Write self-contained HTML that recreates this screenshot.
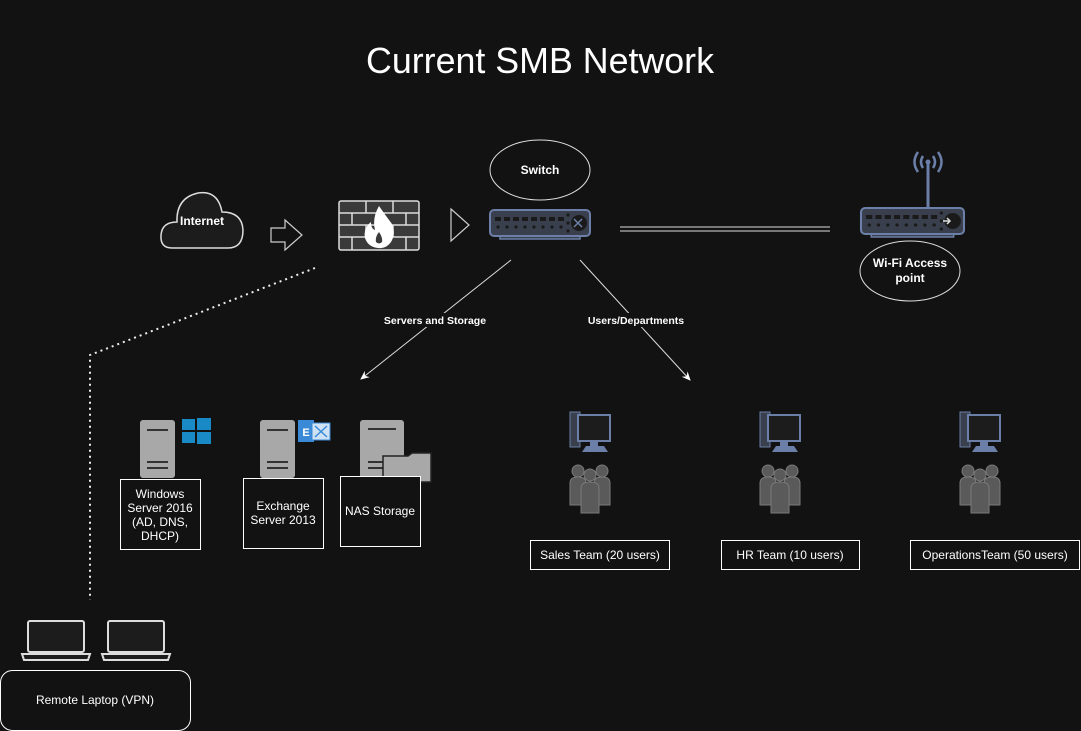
<!DOCTYPE html>
<html><head><meta charset="utf-8"><style>
html,body{margin:0;padding:0;background:#121212;}
svg{display:block;}
text{font-family:"Liberation Sans",Arial,sans-serif;fill:#fff;}
</style></head><body>
<svg width="1081" height="731" viewBox="0 0 1081 731" xmlns="http://www.w3.org/2000/svg">
<defs>
<g id="switchdev">
  <rect x="10" y="26" width="80" height="5" fill="#3a3f4d" stroke="#6b7fa8" stroke-width="1.5"/>
  <rect x="0" y="2" width="100" height="26" rx="4" fill="#3a3f4d" stroke="#6b7fa8" stroke-width="2"/>
  <g fill="#1a1a1a">
    <rect x="5" y="9" width="6" height="4"/><rect x="14" y="9" width="6" height="4"/><rect x="23" y="9" width="6" height="4"/><rect x="32" y="9" width="6" height="4"/><rect x="41" y="9" width="6" height="4"/><rect x="50" y="9" width="6" height="4"/><rect x="59" y="9" width="6" height="4"/><rect x="68" y="9" width="6" height="4"/>
    <circle cx="8" cy="19" r="1.6"/><circle cx="17" cy="19" r="1.6"/><circle cx="26" cy="19" r="1.6"/><circle cx="35" cy="19" r="1.6"/><circle cx="44" cy="19" r="1.6"/><circle cx="53" cy="19" r="1.6"/><circle cx="62" cy="19" r="1.6"/><circle cx="71" cy="19" r="1.6"/>
    <circle cx="78" cy="7" r="1.6"/><circle cx="78" cy="15" r="1.6"/><circle cx="78" cy="23" r="1.6"/>
    <circle cx="89" cy="15" r="8"/>
  </g>
</g>
<g id="server">
  <rect x="0" y="0" width="35" height="58" rx="3" fill="#a8a8a8"/>
  <rect x="7" y="9" width="21" height="2" fill="#333"/>
  <rect x="7" y="41" width="21" height="2" fill="#333"/>
  <rect x="7" y="47" width="21" height="2" fill="#333"/>
</g>
<g id="pc">
  <rect x="0" y="0" width="10" height="35" fill="#3a3f4d" stroke="#6b7fa8" stroke-width="1"/>
  <rect x="8" y="3" width="32" height="26" fill="#1c1c1c" stroke="#6b7fa8" stroke-width="2"/>
  <rect x="20" y="29" width="8" height="5" fill="#6b7fa8"/>
  <path d="M12 40 L16 34 L34 34 L38 40 Z" fill="#6b7fa8"/>
</g>
<g id="people" fill="#5a5a5a" stroke="#7a7a7a" stroke-width="1">
  <circle cx="8" cy="8" r="6"/><circle cx="32" cy="8" r="6"/>
  <path d="M0 20 Q0 14 8 14 Q16 14 16 20 L16 42 L0 42 Z"/>
  <path d="M24 20 Q24 14 32 14 Q40 14 40 20 L40 42 L24 42 Z"/>
  <circle cx="20" cy="12" r="6"/>
  <path d="M11 25 Q11 19 20 19 Q29 19 29 25 L29 50 L11 50 Z"/>
</g>
<g id="laptop">
  <rect x="7" y="0" width="56" height="31" rx="2" fill="#1c1c1c" stroke="#ddd" stroke-width="2"/>
  <path d="M1 33 L69 33 L67 39 L3 39 Z" fill="#1c1c1c" stroke="#ddd" stroke-width="2"/>
</g>
<marker id="ah" markerWidth="10" markerHeight="10" refX="8" refY="5" orient="auto" markerUnits="userSpaceOnUse">
  <path d="M0 1 L9 5 L0 9 L3 5 Z" fill="#fff"/>
</marker>
</defs>

<text x="540" y="73" font-size="36" text-anchor="middle" textLength="348" lengthAdjust="spacingAndGlyphs">Current SMB Network</text>

<path d="M172 248 Q160 248 161 235 Q162 222 177 222 Q176 198 198 193 Q218 190 222 212 Q242 212 243 230 Q243 248 228 248 Z" fill="#1c1c1c" stroke="#ddd" stroke-width="1.5"/>
<text x="202" y="225" font-size="12" font-weight="bold" text-anchor="middle">Internet</text>

<path d="M271 228 L285 228 L285 220 L302 235 L285 250 L285 242 L271 242 Z" fill="none" stroke="#ccc" stroke-width="1.2"/>

<rect x="339" y="201" width="80" height="49" rx="2" fill="#3a3a3a" stroke="#ddd" stroke-width="1.5"/>
<g stroke="#ddd" stroke-width="1.5">
  <line x1="339" y1="213" x2="419" y2="213"/><line x1="339" y1="225" x2="419" y2="225"/><line x1="339" y1="237" x2="419" y2="237"/>
  <line x1="366" y1="201" x2="366" y2="213"/><line x1="393" y1="201" x2="393" y2="213"/>
  <line x1="352" y1="213" x2="352" y2="225"/><line x1="406" y1="213" x2="406" y2="225"/>
  <line x1="366" y1="225" x2="366" y2="237"/><line x1="393" y1="225" x2="393" y2="237"/>
  <line x1="352" y1="237" x2="352" y2="250"/><line x1="406" y1="237" x2="406" y2="250"/>
</g>
<path d="M379 206 Q386 216 392 224 Q396 234 391 242 Q386 249 378 248 Q368 247 365 238 Q363 228 371 222 Q371 229 375 230 Q372 218 379 206 Z" fill="#fff"/>
<path d="M379 232 Q383 238 382 242 Q379 245 376 242 Q375 237 379 232 Z" fill="#3a3a3a"/>

<path d="M451 209 L469 225 L451 241 Z" fill="none" stroke="#ccc" stroke-width="1.2"/>

<ellipse cx="540" cy="170" rx="50" ry="30" fill="none" stroke="#ddd" stroke-width="1"/>
<text x="540" y="174" font-size="12" font-weight="bold" text-anchor="middle">Switch</text>
<use href="#switchdev" x="490" y="208"/>
<path d="M574 219 L582 227 M582 219 L574 227" stroke="#6b7fa8" stroke-width="1.5"/>

<line x1="620" y1="227" x2="830" y2="227" stroke="#ddd" stroke-width="1"/>
<line x1="620" y1="231" x2="830" y2="231" stroke="#ddd" stroke-width="1"/>

<line x1="928" y1="162" x2="928" y2="207" stroke="#6b7fa8" stroke-width="3"/>
<g fill="none" stroke="#6b7fa8" stroke-width="2.5">
  <path d="M923 156 Q919 162 923 168"/><path d="M933 156 Q937 162 933 168"/>
  <path d="M918 152 Q911 162 918 172"/><path d="M938 152 Q945 162 938 172"/>
</g>
<circle cx="928" cy="162" r="2.5" fill="#6b7fa8"/>
<use href="#switchdev" transform="translate(861 206) scale(1.03 1)"/>
<path d="M943 221 L950 221 M947 218 L950 221 L947 224" stroke="#ddd" stroke-width="1.5" fill="none"/>
<ellipse cx="910" cy="271" rx="50" ry="30" fill="none" stroke="#ddd" stroke-width="1"/>
<text x="910" y="267" font-size="12" font-weight="bold" text-anchor="middle">Wi-Fi Access</text>
<text x="910" y="282" font-size="12" font-weight="bold" text-anchor="middle">point</text>

<line x1="511" y1="260" x2="361" y2="379" stroke="#ddd" stroke-width="1" marker-end="url(#ah)"/>
<line x1="580" y1="260" x2="690" y2="380" stroke="#ddd" stroke-width="1" marker-end="url(#ah)"/>
<rect x="383" y="313" width="104" height="14" fill="#121212"/>
<text x="435" y="324" font-size="10.5" font-weight="bold" text-anchor="middle">Servers and Storage</text>
<rect x="587" y="313" width="98" height="14" fill="#121212"/>
<text x="636" y="324" font-size="10.5" font-weight="bold" text-anchor="middle">Users/Departments</text>

<polyline points="315,268 90,355 90,600" fill="none" stroke="#eee" stroke-width="2" stroke-dasharray="2 4"/>

<use href="#server" x="140" y="420"/>
<g fill="#1a8ac6">
  <rect x="182" y="419" width="13" height="11"/><rect x="197" y="418" width="14" height="12"/>
  <rect x="182" y="432" width="13" height="11"/><rect x="197" y="432" width="14" height="12"/>
</g>
<rect x="120.5" y="479.5" width="80" height="70" fill="#121212" stroke="#fff"/>
<text font-size="12" text-anchor="middle"><tspan x="160" y="498">Windows</tspan><tspan x="160" y="512">Server 2016</tspan><tspan x="160" y="526">(AD, DNS,</tspan><tspan x="160" y="540">DHCP)</tspan></text>

<use href="#server" x="260" y="420"/>
<rect x="298" y="420" width="16" height="22" fill="#3b8ad8"/>
<rect x="312" y="423" width="18" height="17" fill="#cfe1f5" stroke="#3b8ad8"/>
<text x="306" y="436" font-size="11" font-weight="bold" text-anchor="middle">E</text>
<path d="M315 426 L327 437 M327 426 L315 437" stroke="#3b8ad8" stroke-width="1.5"/>
<rect x="243.5" y="478.5" width="80" height="70" fill="#121212" stroke="#fff"/>
<text font-size="12" text-anchor="middle"><tspan x="283" y="510">Exchange</tspan><tspan x="283" y="524">Server 2013</tspan></text>

<rect x="360" y="420" width="44" height="60" rx="3" fill="#a8a8a8"/>
<rect x="368" y="428" width="28" height="2" fill="#333"/>
<rect x="368" y="461" width="28" height="2" fill="#333"/>
<rect x="368" y="467" width="28" height="2" fill="#333"/>
<path d="M383 456 L383 482 L431 482 L431 453 L412 453 L408 456 Z" fill="#a8a8a8" stroke="#222" stroke-width="1.5"/>
<rect x="340.5" y="476.5" width="80" height="70" fill="#121212" stroke="#fff"/>
<text x="380" y="515" font-size="12" text-anchor="middle">NAS Storage</text>

<use href="#pc" x="570" y="412"/><use href="#people" x="570" y="463"/>
<rect x="530.5" y="540.5" width="139" height="29" fill="#121212" stroke="#fff"/>
<text x="600" y="559" font-size="12" text-anchor="middle">Sales Team (20 users)</text>

<use href="#pc" x="760" y="412"/><use href="#people" x="760" y="463"/>
<rect x="721.5" y="540.5" width="138" height="29" fill="#121212" stroke="#fff"/>
<text x="790" y="559" font-size="12" text-anchor="middle">HR Team (10 users)</text>

<use href="#pc" x="960" y="412"/><use href="#people" x="960" y="463"/>
<rect x="910.5" y="540.5" width="169" height="29" fill="#121212" stroke="#fff"/>
<text x="995" y="559" font-size="12" text-anchor="middle">OperationsTeam (50 users)</text>

<use href="#laptop" x="21" y="621"/>
<use href="#laptop" x="101" y="621"/>
<rect x="0.5" y="670.5" width="190" height="60" rx="12" fill="#121212" stroke="#fff"/>
<text x="95" y="704" font-size="12" text-anchor="middle">Remote Laptop (VPN)</text>
</svg>
</body></html>
